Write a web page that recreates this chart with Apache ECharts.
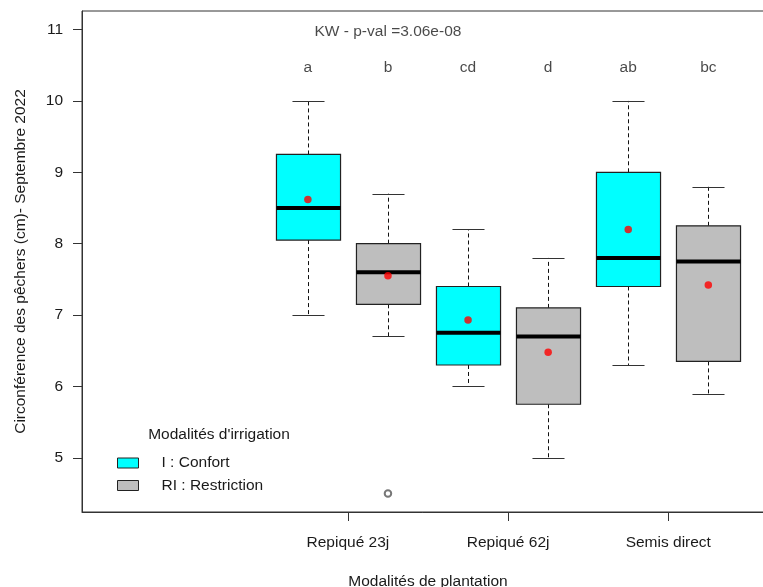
<!DOCTYPE html>
<html><head><meta charset="utf-8">
<script src="https://cdn.jsdelivr.net/npm/echarts@6/dist/echarts.min.js"></script>
<style>html,body{margin:0;padding:0;background:#fff}#c{width:763px;height:587px}</style>
</head><body><div id="c"></div>
<script>
const categories = ['Repiqué 23j', 'Repiqué 62j', 'Semis direct'];
const groupNames = ['I : Confort', 'RI : Restriction'];
// [min, Q1, median, Q3, max]
const confortStats = [[7.0, 8.05, 8.5, 9.25, 10.0], [6.0, 6.3, 6.75, 7.4, 8.2], [6.3, 7.4, 7.8, 9.0, 10.0]];
const restrictionStats = [[6.7, 7.15, 7.6, 8.0, 8.7], [5.0, 5.75, 6.7, 7.1, 7.8], [5.9, 6.35, 7.75, 8.25, 8.8]];
const confortMeans = [8.62, 6.93, 8.2];
const restrictionMeans = [7.55, 6.48, 7.42];
const restrictionOutliers = [[0, 4.5]]; // [category index, value]
const confortLetters = ['a', 'cd', 'ab'];
const restrictionLetters = ['b', 'd', 'bc'];
const yTicks = [5, 6, 7, 8, 9, 10, 11];
const kwText = 'KW - p-val =3.06e-08';
const legendTitle = "Modalités d'irrigation";
const xTitle = 'Modalités de plantation';
const yTitle = 'Circonférence des pêchers (cm)- Septembre 2022';

const FONT = "'Liberation Sans', Arial, sans-serif";
const FS = 15.5;
const TXT = '#1a1a1a';
const colors = ['#00FFFF', '#BEBEBE'];

const posC = i => 2 * i + 1;
const posR = i => 2 * i + 2;
const catPos = categories.map((c, i) => 2 * i + 1.5);

function boxRender(fill) {
  return function (params, api) {
    const x = api.value(0);
    const mn = api.coord([x, api.value(1)]);
    const q1 = api.coord([x, api.value(2)]);
    const md = api.coord([x, api.value(3)]);
    const q3 = api.coord([x, api.value(4)]);
    const mx = api.coord([x, api.value(5)]);
    const hw = api.size([0.4, 0])[0];
    const cw = api.size([0.2, 0])[0];
    const cx = Math.round(mn[0]) + 0.5;
    const stroke = '#222';
    const dash = { stroke: '#111', lineWidth: 1, lineDash: [4, 3] };
    const solid = { stroke: '#333', lineWidth: 1 };
    return {
      type: 'group',
      children: [
        { type: 'line', shape: { x1: cx, y1: q3[1], x2: cx, y2: mx[1] }, style: dash },
        { type: 'line', shape: { x1: cx, y1: q1[1], x2: cx, y2: mn[1] }, style: dash },
        { type: 'line', shape: { x1: cx - cw, y1: Math.round(mx[1]) + 0.5, x2: cx + cw, y2: Math.round(mx[1]) + 0.5 }, style: solid },
        { type: 'line', shape: { x1: cx - cw, y1: Math.round(mn[1]) + 0.5, x2: cx + cw, y2: Math.round(mn[1]) + 0.5 }, style: solid },
        { type: 'rect', shape: { x: cx - hw, y: q3[1], width: 2 * hw, height: q1[1] - q3[1] },
          style: { fill: fill, stroke: stroke, lineWidth: 1.2 } },
        { type: 'line', shape: { x1: cx - hw, y1: md[1], x2: cx + hw, y2: md[1] }, style: { stroke: '#000', lineWidth: 4 } }
      ]
    };
  };
}

const confortData = confortStats.map((s, i) => [posC(i)].concat(s));
const restrictionData = restrictionStats.map((s, i) => [posR(i)].concat(s));
const meanData = confortMeans.map((m, i) => [posC(i), m]).concat(restrictionMeans.map((m, i) => [posR(i), m]));
const outlierData = restrictionOutliers.map(o => [posR(o[0]), o[1]]);
const letterData = confortLetters.map((l, i) => ({ value: [posC(i), 10.5], name: l }))
  .concat(restrictionLetters.map((l, i) => ({ value: [posR(i), 10.5], name: l })));

const chart = echarts.init(document.getElementById('c'), null, { renderer: 'canvas' });
chart.setOption({
  backgroundColor: '#fff',
  animation: false,
  textStyle: { fontFamily: FONT },
  grid: { left: 82, top: 11, width: 692, height: 501, show: true, borderColor: '#333', borderWidth: 1,
    backgroundColor: 'transparent', containLabel: false, outerBoundsMode: 'none' },
  title: [{
    text: legendTitle, left: 219, top: 427, textAlign: 'center', padding: 0,
    textStyle: { fontFamily: FONT, fontSize: FS, fontWeight: 'normal', color: TXT }
  }],
  legend: [{
    data: [groupNames[0]], left: 117, top: 455, padding: 0, orient: 'vertical',
    itemWidth: 21, itemHeight: 10, icon: 'rect',
    itemStyle: { borderColor: '#222', borderWidth: 1 },
    textStyle: { fontFamily: FONT, fontSize: FS, color: TXT, padding: [3, 0, 0, 18] }
  }, {
    data: [groupNames[1]], left: 117, top: 477.5, padding: 0, orient: 'vertical',
    itemWidth: 21, itemHeight: 10, icon: 'rect',
    itemStyle: { borderColor: '#222', borderWidth: 1 },
    textStyle: { fontFamily: FONT, fontSize: FS, color: TXT, padding: [3, 0, 0, 18] }
  }],
  xAxis: {
    type: 'value', min: -1.82, max: 6.82,
    name: xTitle, nameLocation: 'middle', nameGap: 62,
    nameTextStyle: { fontFamily: FONT, fontSize: FS, color: TXT },
    splitLine: { show: false },
    axisLine: { show: true, onZero: false, lineStyle: { color: '#333' } },
    axisTick: { show: true, length: 9, lineStyle: { color: '#333' }, customValues: catPos },
    axisLabel: { show: true, margin: 23, fontFamily: FONT, fontSize: FS, color: TXT, customValues: catPos,
      formatter: v => categories[Math.round((v - 1.5) / 2)] }
  },
  yAxis: {
    type: 'value', min: 4.24, max: 11.26,
    name: yTitle, nameLocation: 'middle', nameGap: 53, nameRotate: 90,
    nameTextStyle: { fontFamily: FONT, fontSize: FS, color: TXT },
    splitLine: { show: false },
    axisLine: { show: true, onZero: false, lineStyle: { color: '#333' } },
    axisTick: { show: true, length: 9, lineStyle: { color: '#333' }, customValues: yTicks },
    axisLabel: { show: true, margin: 19, fontFamily: FONT, fontSize: FS, color: TXT, customValues: yTicks,
      padding: [3, 0, 0, 0], formatter: v => String(Math.round(v)) }
  },
  series: [
    { name: groupNames[0], type: 'custom', renderItem: boxRender(colors[0]), itemStyle: { color: colors[0] },
      encode: { x: 0, y: [1, 2, 3, 4, 5] }, data: confortData, z: 2 },
    { name: groupNames[1], type: 'custom', renderItem: boxRender(colors[1]), itemStyle: { color: colors[1] },
      encode: { x: 0, y: [1, 2, 3, 4, 5] }, data: restrictionData, z: 2 },
    { name: 'moyenne', type: 'scatter', data: meanData, symbol: 'circle', symbolSize: 7.5,
      itemStyle: { color: '#FF0000' }, z: 5, silent: true },
    { name: 'outliers', type: 'scatter', data: outlierData, symbol: 'emptyCircle', symbolSize: 6.5,
      itemStyle: { color: '#555', borderColor: '#555', borderWidth: 0.9 }, z: 5, silent: true },
    { name: 'letters', type: 'scatter', data: letterData, symbolSize: 0, silent: true, z: 6,
      label: { show: true, position: 'inside', offset: [0, 2.5], formatter: p => p.name, fontFamily: FONT, fontSize: FS, color: TXT } },
    { name: 'kw', type: 'scatter', data: [{ value: [2, 11], name: kwText }], symbolSize: 0, silent: true, z: 6,
      label: { show: true, position: 'inside', offset: [0, 2], formatter: p => p.name, fontFamily: FONT, fontSize: FS, color: TXT } }
  ]
});
</script>
</body></html>
